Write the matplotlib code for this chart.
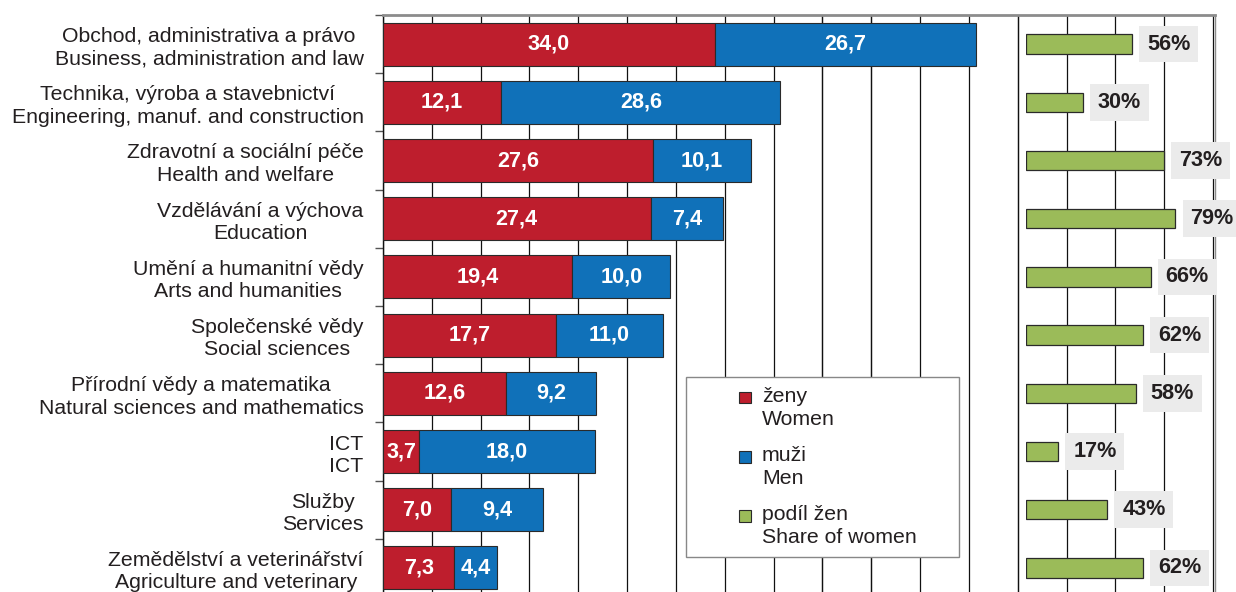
import numpy as np
import matplotlib.pyplot as plt
from matplotlib.patches import Patch, Rectangle
from matplotlib.legend_handler import HandlerPatch

plt.rcParams['font.family'] = ['Liberation Sans', 'DejaVu Sans']

fields = [
    "Obchod, administrativa a právo\nBusiness, administration and law",
    "Technika, výroba a stavebnictví\nEngineering, manuf. and construction",
    "Zdravotní a sociální péče\nHealth and welfare",
    "Vzdělávání a výchova\nEducation",
    "Umění a humanitní vědy\nArts and humanities",
    "Společenské vědy\nSocial sciences",
    "Přírodní vědy a matematika\nNatural sciences and mathematics",
    "ICT\nICT",
    "Služby\nServices",
    "Zemědělství a veterinářství\nAgriculture and veterinary",
]
women = [34.0, 12.1, 27.6, 27.4, 19.4, 17.7, 12.6, 3.7, 7.0, 7.3]
men = [26.7, 28.6, 10.1, 7.4, 10.0, 11.0, 9.2, 18.0, 9.4, 4.4]
share_women = [56, 30, 73, 79, 66, 62, 58, 17, 43, 62]

RED = '#be1e2d'
BLUE = '#1071b9'
GREEN = '#9bbb59'
TEXT = '#231f20'
EDGE = '#2a2a2a'
FS = 15.3

W, H = 1236, 592
fig = plt.figure(figsize=(W / 100, H / 100), dpi=100)

def px_box(x0, x1, y_top, y_bot):
    return [x0 / W, 1 - y_bot / H, (x1 - x0) / W, (y_bot - y_top) / H]

ax = fig.add_axes(px_box(383, 1215, 15, 597))
y = np.arange(len(fields))
bh = 0.74

ax.barh(y, women, height=bh, color=RED, edgecolor=EDGE, linewidth=0.8, zorder=3)
ax.barh(y, men, left=women, height=bh, color=BLUE, edgecolor=EDGE, linewidth=0.8, zorder=3)

for i, (w, m) in enumerate(zip(women, men)):
    ax.text(w / 2, i, f"{w:.1f}".replace('.', ','), ha='center', va='center',
            color='white', fontsize=15.6, fontweight='bold', zorder=4)
    ax.text(w + m / 2, i, f"{m:.1f}".replace('.', ','), ha='center', va='center',
            color='white', fontsize=15.6, fontweight='bold', zorder=4)

ax.set_xlim(0, 85.2)
ax.set_ylim(len(fields) - 0.5, -0.5)
ax.set_xticks(np.arange(0, 86, 5))
ax.set_xticklabels([])
ax.tick_params(axis='x', length=0)
ax.grid(axis='x', color='#111111', linewidth=0.9, zorder=1)
for gx in (45, 50, 65):
    ax.axvline(gx, color='#777777', linewidth=1.0, zorder=1.5)

ax.set_yticks(y)
ax.set_yticklabels(fields, fontsize=FS, color=TEXT, linespacing=1.22)
for lab in ax.get_yticklabels():
    lab.set_multialignment('center')
ax.tick_params(axis='y', which='major', length=0, pad=14)
ax.set_yticks(np.arange(-0.5, len(fields) - 0.5, 1.0), minor=True)
ax.tick_params(axis='y', which='minor', length=6, width=1, color='#555555')

ax.spines['left'].set_color('#111111')
ax.spines['left'].set_linewidth(1.0)
ax.spines['top'].set_color('#8c8c8c')
ax.spines['top'].set_linewidth(2.0)
ax.spines['right'].set_color('#8c8c8c')
ax.spines['right'].set_linewidth(1.0)
ax.spines['bottom'].set_visible(False)

# share of women panel on the right
ax2 = fig.add_axes(px_box(1026, 1215, 15, 597))
ax2.patch.set_alpha(0)
ax2.barh(y, share_women, height=0.335, color=GREEN, edgecolor=EDGE, linewidth=0.9)
for i, s in enumerate(share_women):
    ax2.annotate(f"{s}%", (s, i), xytext=(15, 0), textcoords='offset pixels',
                 ha='left', va='center', fontsize=15.6, fontweight='bold', color=TEXT,
                 bbox=dict(boxstyle='square,pad=0.36', facecolor='#ebebeb', edgecolor='none'),
                 annotation_clip=False)
ax2.set_xlim(0, 100)
ax2.set_ylim(len(fields) - 0.5, -0.5)
ax2.axis('off')


def top_square(legend, orig_handle, xdescent, ydescent, width, height, fontsize):
    # small square level with the first line of a two-line label
    side = 0.55 * fontsize
    return Rectangle((width - side, height - 0.08 * fontsize), side, side)


handles = [Patch(facecolor=RED, edgecolor=EDGE, linewidth=0.8),
           Patch(facecolor=BLUE, edgecolor=EDGE, linewidth=0.8),
           Patch(facecolor=GREEN, edgecolor=EDGE, linewidth=0.8)]
labels = ["ženy\nWomen", "muži\nMen", "podíl žen\nShare of women"]
leg = ax.legend(handles, labels, loc='upper left', mode='expand',
                bbox_to_anchor=px_box(686, 959, 377, 556), bbox_transform=fig.transFigure,
                fontsize=FS, frameon=True, fancybox=False, framealpha=1,
                edgecolor='#888888', handlelength=2.6, handleheight=0.6,
                handletextpad=0.52, labelspacing=0.8, borderpad=0.45,
                borderaxespad=0, labelcolor=TEXT,
                handler_map={Patch: HandlerPatch(patch_func=top_square)})
for t in leg.get_texts():
    t.set_linespacing(1.28)
leg.get_frame().set_linewidth(1.0)
leg.set_zorder(10)

fig.savefig('out.png', dpi=100)
